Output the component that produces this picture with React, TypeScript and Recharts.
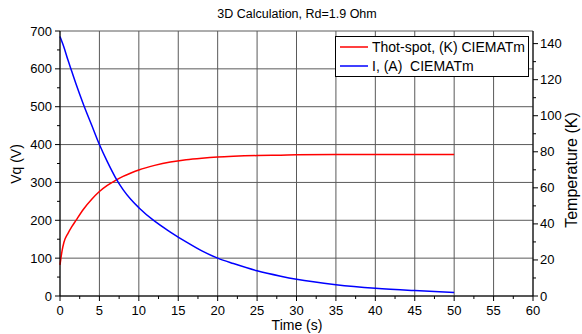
import React from 'react';
import { LineChart, Line, XAxis, YAxis, CartesianGrid, Legend } from 'recharts';

// time points (s)
const TIME = [0, 0.25, 0.5, 1, 1.5, 2, 3, 4, 5, 6, 7, 8, 9, 10, 12, 14, 16, 18, 20, 22, 25, 28, 30, 35, 40, 45, 50];
// Thot-spot, left axis
const THOT = [82, 118, 142, 165, 183, 199, 230, 255, 276, 292, 305, 316, 325, 333, 345, 354, 360, 364, 367, 369, 371, 372, 373, 374, 374, 374, 374];
// I (A), right axis
const CURRENT = [144, 141, 138, 131, 124.5, 118, 106, 95, 84, 74.5, 66, 59, 53.5, 49, 41.5, 35.5, 30, 25, 21, 18, 14, 11, 9.3, 6.3, 4.3, 3, 2];

const X_TICKS = [0, 2.5, 5, 7.5, 10, 12.5, 15, 17.5, 20, 22.5, 25, 27.5, 30, 32.5, 35, 37.5, 40, 42.5, 45, 47.5, 50, 52.5, 55, 57.5, 60];
const X_GRID = [0, 5, 10, 15, 20, 25, 30, 35, 40, 45, 50, 55, 60];
const LEFT_TICKS = [0, 50, 100, 150, 200, 250, 300, 350, 400, 450, 500, 550, 600, 650, 700];
const LEFT_GRID = [0, 100, 200, 300, 400, 500, 600, 700];
const RIGHT_TICKS = [0, 10, 20, 30, 40, 50, 60, 70, 80, 90, 100, 110, 120, 130, 140];

const TITLE = '3D Calculation, Rd=1.9 Ohm';
const SERIES_RED = 'Thot-spot, (K) CIEMATm';
const SERIES_BLUE = 'I, (A)  CIEMATm';
const LEGEND_ORDER = ['thot', 'cur'];
const COLORS: Record<string, string> = { thot: '#ff0000', cur: '#0000ff' };

const data = TIME.map((t, i) => ({ t, thot: THOT[i], cur: CURRENT[i] }));

const FONT = 'Liberation Sans, Arial, sans-serif';

const LeftTick = (props: any) => {
  const { x, y, payload } = props;
  const major = payload.value % 100 === 0;
  return (
    <g>
      <line x1={x} x2={x - (major ? 5 : 3)} y1={y} y2={y} stroke="#000" />
      {major && (
        <text x={x - 8} y={y} dy={4.5} textAnchor="end" fontSize={13} fill="#000" fontFamily={FONT}>
          {payload.value}
        </text>
      )}
    </g>
  );
};

const RightTick = (props: any) => {
  const { x, y, payload } = props;
  const major = payload.value % 20 === 0;
  return (
    <g>
      <line x1={x} x2={x + (major ? 5 : 3)} y1={y} y2={y} stroke="#000" />
      {major && (
        <text x={x + 7} y={y} dy={4.5} textAnchor="start" fontSize={13} fill="#000" fontFamily={FONT}>
          {payload.value}
        </text>
      )}
    </g>
  );
};

const BottomTick = (props: any) => {
  const { x, y, payload } = props;
  const major = payload.value % 5 === 0;
  return (
    <g>
      <line x1={x} x2={x} y1={y} y2={y + (major ? 5 : 3)} stroke="#000" />
      {major && (
        <text x={x} y={y + 19} textAnchor="middle" fontSize={13} fill="#000" fontFamily={FONT}>
          {payload.value}
        </text>
      )}
    </g>
  );
};

const LegendBox = (props: any) => {
  const items = [...(props.payload || [])].sort(
    (a: any, b: any) => LEGEND_ORDER.indexOf(a.dataKey) - LEGEND_ORDER.indexOf(b.dataKey)
  );
  return (
    <div
      style={{
        boxSizing: 'border-box',
        width: 194,
        height: 41,
        border: '1px solid #000',
        background: '#fff',
        padding: '1px 0 0 4px',
        fontFamily: FONT,
        fontSize: 14,
        color: '#000',
      }}
    >
      {items.map((p: any) => (
        <div key={p.value} style={{ display: 'flex', alignItems: 'center', height: 18.5 }}>
          <svg width={28} height={4} style={{ marginRight: 4, display: 'block' }}>
            <line x1={0} x2={28} y1={2} y2={2} stroke={COLORS[p.dataKey]} strokeWidth={1.5} />
          </svg>
          <span style={{ whiteSpace: 'pre' }}>{p.value}</span>
        </div>
      ))}
    </div>
  );
};

export default function App() {
  return (
    <div style={{ position: 'absolute', left: 0, top: 0, background: '#fff' }}>
      <LineChart width={582} height={334} data={data} margin={{ top: 31, right: 0, bottom: 0, left: 0 }}>
        <text x={297} y={18} textAnchor="middle" fontSize={12.5} fontFamily={FONT} fill="#000">
          {TITLE}
        </text>
        <CartesianGrid
          yAxisId="left"
          stroke="#5a5a5a"
          strokeWidth={1}
          verticalValues={X_GRID}
          horizontalValues={LEFT_GRID}
        />
        <XAxis
          dataKey="t"
          type="number"
          domain={[0, 60]}
          ticks={X_TICKS}
          interval={0}
          height={38}
          tickSize={0}
          tickMargin={0}
          tickLine={false}
          axisLine={{ stroke: '#000' }}
          tick={<BottomTick />}
        />
        <YAxis
          yAxisId="left"
          orientation="left"
          domain={[0, 700]}
          ticks={LEFT_TICKS}
          interval={0}
          width={60}
          tickSize={0}
          tickMargin={0}
          tickLine={false}
          axisLine={{ stroke: '#000' }}
          tick={<LeftTick />}
        />
        <YAxis
          yAxisId="right"
          orientation="right"
          domain={[0, 147]}
          ticks={RIGHT_TICKS}
          interval={0}
          width={49}
          tickSize={0}
          tickMargin={0}
          tickLine={false}
          axisLine={{ stroke: '#000' }}
          tick={<RightTick />}
        />
        <Legend
          layout="vertical"
          align="center"
          verticalAlign="middle"
          wrapperStyle={{ left: 335, top: 36, width: 194, height: 41 }}
          content={<LegendBox />}
        />
        <Line
          yAxisId="left"
          type="monotone"
          dataKey="thot"
          name={SERIES_RED}
          stroke={COLORS.thot}
          strokeWidth={1.5}
          dot={false}
          isAnimationActive={false}
        />
        <Line
          yAxisId="right"
          type="monotone"
          dataKey="cur"
          name={SERIES_BLUE}
          stroke={COLORS.cur}
          strokeWidth={1.5}
          dot={false}
          isAnimationActive={false}
        />
        <text x={297} y={330} textAnchor="middle" fontSize={14} fontFamily={FONT} fill="#000">
          Time (s)
        </text>
        <text x={21} y={164} transform="rotate(-90 21 164)" textAnchor="middle" fontSize={14} fontFamily={FONT} fill="#000">
          Vq (V)
        </text>
        <text x={577} y={170} transform="rotate(-90 577 170)" textAnchor="middle" fontSize={16} fontFamily={FONT} fill="#000">
          Temperature (K)
        </text>
      </LineChart>
    </div>
  );
}
